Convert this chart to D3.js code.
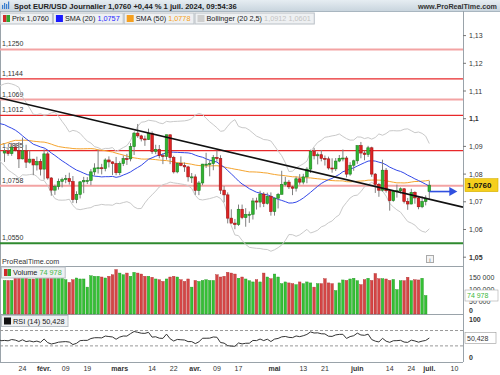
<!DOCTYPE html>
<html><head><meta charset="utf-8">
<script src="https://cdn.jsdelivr.net/npm/d3@7"></script>
<style>body{margin:0;background:#fff}svg{display:block;font-family:"Liberation Sans",Arial,sans-serif}</style>
</head><body><svg id="c" width="500" height="375"></svg>
<script>
// ---------- DATA ----------
const startDate = "2024-01-17", endDate = "2024-07-01";
const opens = [1.0876,1.0883,1.0874,1.0897,1.0885,1.0855,1.0884,1.0843,1.0854,1.0833,1.0845,
1.0818,1.0873,1.0786,1.0742,1.0755,1.0774,1.0780,1.0784,1.0773,1.0708,1.0727,1.0772,1.0777,1.0777,1.0808,1.0822,1.0823,1.0820,1.0851,1.0844,1.0838,
1.0805,1.0838,1.0856,1.0855,1.0899,1.0948,1.0938,1.0927,1.0925,1.0946,1.0882,1.0889,1.0867,1.0864,1.0942,1.0860,1.0808,1.0839,1.0831,1.0826,1.0790,
1.0790,1.0741,1.0768,1.0836,1.0836,1.0838,1.0860,1.0856,1.0742,1.0725,1.0641,1.0623,1.0618,1.0673,1.0643,1.0654,1.0655,1.0703,1.0699,1.0728,1.0694,1.0720,
1.0665,1.0713,1.0727,1.0762,1.0771,1.0754,1.0749,1.0783,1.0771,1.0790,1.0818,1.0882,1.0866,1.0870,1.0857,1.0855,1.0822,1.0819,1.0847,1.0857,1.0858,1.0800,1.0832,
1.0848,1.0903,1.0876,1.0871,1.0895,1.0800,1.0763,1.0742,1.0814,1.0740,1.0704,1.0738,1.0740,1.0747,1.0701,1.0692,1.0734,1.0714,1.0682,1.0701,
1.0737];
const highs = [1.0893,1.0895,1.0913,1.0911,1.0916,1.0932,1.0906,1.0885,1.0855,1.0863,1.0855,
1.0889,1.0881,1.0789,1.0762,1.0784,1.0787,1.0797,1.0805,1.0793,1.0738,1.0775,1.0790,1.0789,1.0818,1.0839,1.0888,1.0837,1.0857,1.0864,1.0846,1.0862,
1.0846,1.0867,1.0873,1.0912,1.0951,1.0981,1.0942,1.0939,1.0964,1.0954,1.0906,1.0905,1.0876,1.0942,1.0942,1.0866,1.0842,1.0864,1.0842,1.0830,1.0804,
1.0799,1.0775,1.0837,1.0877,1.0850,1.0869,1.0885,1.0868,1.0757,1.0734,1.0673,1.0638,1.0690,1.0690,1.0677,1.0665,1.0714,1.0715,1.0740,1.0735,1.0733,1.0734,
1.0716,1.0732,1.0812,1.0790,1.0779,1.0758,1.0791,1.0800,1.0801,1.0825,1.0888,1.0895,1.0878,1.0887,1.0867,1.0863,1.0857,1.0858,1.0869,1.0889,1.0865,1.0843,1.0852,
1.0902,1.0916,1.0884,1.0902,1.0899,1.0804,1.0768,1.0852,1.0822,1.0744,1.0741,1.0762,1.0752,1.0749,1.0714,1.0747,1.0738,1.0718,1.0720,1.0723,
1.0776];
const lows = [1.0844,1.0866,1.0866,1.0882,1.0822,1.0853,1.0822,1.0838,1.0796,1.0813,1.0795,
1.0780,1.0780,1.0722,1.0725,1.0744,1.0752,1.0767,1.0762,1.0696,1.0695,1.0712,1.0731,1.0764,1.0760,1.0795,1.0802,1.0799,1.0810,1.0824,1.0797,1.0796,
1.0796,1.0829,1.0833,1.0846,1.0869,1.0931,1.0918,1.0902,1.0923,1.0873,1.0872,1.0857,1.0836,1.0852,1.0836,1.0802,1.0803,1.0828,1.0808,1.0773,1.0768,
1.0725,1.0724,1.0760,1.0822,1.0792,1.0814,1.0845,1.0728,1.0698,1.0622,1.0622,1.0601,1.0613,1.0637,1.0610,1.0624,1.0636,1.0672,1.0680,1.0681,1.0690,1.0650,
1.0650,1.0676,1.0727,1.0756,1.0746,1.0724,1.0737,1.0762,1.0763,1.0767,1.0804,1.0853,1.0835,1.0846,1.0831,1.0816,1.0805,1.0811,1.0843,1.0846,1.0788,1.0794,1.0812,
1.0837,1.0857,1.0850,1.0862,1.0790,1.0732,1.0718,1.0737,1.0733,1.0668,1.0700,1.0715,1.0730,1.0694,1.0671,1.0691,1.0693,1.0673,1.0677,1.0687,
1.0710];
const closes = [1.0883,1.0874,1.0897,1.0885,1.0855,1.0884,1.0843,1.0854,1.0833,1.0845,1.0818,
1.0873,1.0786,1.0742,1.0755,1.0774,1.0780,1.0784,1.0773,1.0708,1.0727,1.0772,1.0777,1.0777,1.0808,1.0822,1.0823,1.0820,1.0851,1.0844,1.0838,1.0805,
1.0838,1.0856,1.0855,1.0899,1.0948,1.0938,1.0927,1.0925,1.0946,1.0882,1.0889,1.0867,1.0864,1.0942,1.0860,1.0808,1.0839,1.0831,1.0826,1.0790,1.0790,
1.0741,1.0768,1.0836,1.0836,1.0838,1.0860,1.0856,1.0742,1.0725,1.0641,1.0623,1.0618,1.0673,1.0643,1.0654,1.0655,1.0703,1.0699,1.0728,1.0694,1.0720,1.0665,
1.0713,1.0727,1.0762,1.0771,1.0754,1.0749,1.0783,1.0771,1.0790,1.0818,1.0882,1.0866,1.0870,1.0857,1.0855,1.0822,1.0819,1.0847,1.0857,1.0858,1.0800,1.0832,1.0848,
1.0903,1.0876,1.0871,1.0895,1.0800,1.0763,1.0742,1.0814,1.0740,1.0704,1.0738,1.0740,1.0747,1.0701,1.0692,1.0734,1.0714,1.0682,1.0701,1.0713,
1.0760];
const volumes = [136000,136000,136000,146000,146000,153000,146000,142000,142000,146000,
153000,153000,159000,153000,146000,153000,146000,139000,128000,139000,
146000,142000,142000,109000,155000,153000,153000,150000,146000,153000,
159000,180000,166000,159000,166000,153000,169000,166000,162000,153000,
153000,149000,142000,139000,132000,142000,150000,153000,150000,139000,
132000,142000,109000,136000,132000,136000,139000,136000,136000,159000,
150000,153000,169000,166000,162000,145000,150000,142000,135000,
130000,139000,130000,166000,150000,143000,162000,150000,123000,130000,
126000,123000,119000,130000,123000,130000,126000,109000,123000,123000,
143000,126000,123000,95000,
126000,138000,136000,142000,145000,135000,119000,139000,145000,136000,
164000,143000,143000,142000,136000,140000,99000,135000,135000,149000,
135000,139000,138000,145000,74978];
// closes before the visible window (for SMA / Bollinger / RSI warm-up)
const priorCloses = [1.0573,1.0620,1.0728,1.0722,1.0699,1.0710,1.0667,1.0683,1.0701,1.0879,1.0848,1.0853,1.0914,
1.0940,1.0910,1.0888,1.0904,1.0940,1.0954,1.0993,1.0970,1.0888,1.0884,1.0835,1.0797,1.0764,1.0793,1.0763,1.0763,
1.0793,1.0874,1.0993,1.0896,1.0923,1.0980,1.0942,1.1013,1.1012,1.1023,1.1043,1.1105,1.1062,1.1039,1.1036,1.0941,
1.0921,1.0945,1.0942,1.0950,1.0930,1.0973,1.0970,1.0951,1.0951,1.0877];
const levelValues = [1.1250, 1.1144, 1.1069, 1.1012, 1.0885, 1.0758, 1.0550];
const levelLabels = ["1,1250","1,1144","1,1069","1,1012","1,0885","1,0758","1,0550"];
const levelKinds = ["soft","hard","soft","hard","hard","soft","support"];
const trendDates = ["2024-01-17","2024-07-10"];
const trendValues = [1.1071, 1.0688];
const priceTicks = [1.05,1.06,1.07,1.08,1.09,1.10,1.11,1.12,1.13];
const priceTickLabels = ["1,05","1,06","1,07","1,08","1,09","1,1","1,11","1,12","1,13"];
const volumeTicks = [0,50000,100000,150000];
const volumeTickLabels = ["0","50 000","100 000","150 000"];
const rsiTicks = [0,100];
const rsiTickLabels = ["0","100"];
const rsiLevels = [30,70];
const timeTickDates = ["2024-01-24","2024-02-01","2024-02-09","2024-02-19","2024-03-01","2024-03-14","2024-03-22","2024-04-01","2024-04-09","2024-04-17","2024-05-01","2024-05-13","2024-05-21","2024-06-03","2024-06-14","2024-06-24","2024-07-01","2024-07-10"];
const timeTickLabels = ["24","févr.","09","19","mars","14","22","avr.","09","17","mai","13","21","juin","14","24","juil.","10"];
const titleText = "Spot EUR/USD Journalier 1,0760 +0,44 % 1 juil. 2024, 09:54:36";
const lastPrice = 1.0760, lastPriceLabel = "1,0760";
const arrowValue = 1.0737;
const legendValues = {prix:"1,0760", sma20:"1,0757", sma50:"1,0778", bollUp:"1,0912", bollLow:"1,0601", volume:"74 978", rsi:"50,428"};
const rsiLast = 50.428;

// ---------- HELPERS ----------
const parse = d3.timeParse("%Y-%m-%d");
const start = parse(startDate);
const dates = d3.timeDay.range(start, d3.timeDay.offset(parse(endDate),1)).filter(d=>d.getDay()%6!==0);
function tradIdx(s){const d=parse(s);let n=0;for(let t=new Date(start);t<d;t=d3.timeDay.offset(t,1)){if(t.getDay()%6!==0)n++;}return n;}
const bars = dates.map((d,i)=>({i,d,o:opens[i],h:highs[i],l:lows[i],c:closes[i],v:volumes[i]}));
const allC = priorCloses.concat(closes);
const off = priorCloses.length;
function sma(n,k){const s=allC.slice(k-n+1,k+1);return d3.mean(s);}
function sd(n,k){const s=allC.slice(k-n+1,k+1);const m=d3.mean(s);return Math.sqrt(d3.mean(s,v=>(v-m)*(v-m)));}
const ind=[];
for(let i=-2;i<bars.length;i++){const k=off+i;ind.push({i,s20:sma(20,k),s50:sma(50,k),up:sma(20,k)+2.5*sd(20,k),lo:sma(20,k)-2.5*sd(20,k)});}
function rsiCalc(arr,n){const out=new Array(arr.length).fill(null);let g=0,l=0;
 for(let i=1;i<=n;i++){const d=arr[i]-arr[i-1];if(d>0)g+=d;else l-=d;}
 let ag=g/n,al=l/n;out[n]=100-100/(1+ag/al);
 for(let i=n+1;i<arr.length;i++){const d=arr[i]-arr[i-1];ag=(ag*(n-1)+Math.max(d,0))/n;al=(al*(n-1)+Math.max(-d,0))/n;out[i]=al===0?100:100-100/(1+ag/al);}
 return out;}
const rsiAll = rsiCalc(allC,14);
const rsiPts=[];for(let i=-2;i<bars.length;i++)rsiPts.push({i,r:rsiAll[off+i]});

// ---------- LAYOUT ----------
const svg=d3.select("#c");
const R=463;
const pTop=24,pBot=266,vTop=266,vBot=314,rTop=314,rBot=362;
const x=d3.scaleLinear().domain([0,bars.length-1]).range([4.5,429.3]);
const y=d3.scaleLinear().domain([1.04682,1.13419]).range([pBot,pTop]);
const yv=d3.scaleLinear().domain([0,150000]).range([vBot,277]);
const yr=d3.scaleLinear().domain([0,100]).range([357.4,319]);
const defs=svg.append("defs");
const gr=defs.append("linearGradient").attr("id","tb").attr("x1",0).attr("x2",0).attr("y1",0).attr("y2",1);
gr.append("stop").attr("offset","0").attr("stop-color","#e6edf2");
gr.append("stop").attr("offset","1").attr("stop-color","#c9d5de");
defs.append("clipPath").attr("id","cp").append("rect").attr("x",0).attr("y",11).attr("width",R).attr("height",pBot-11);
defs.append("clipPath").attr("id","cr").append("rect").attr("x",0).attr("y",rTop).attr("width",R).attr("height",rBot-rTop);

// title bar
svg.append("rect").attr("x",0).attr("y",0).attr("width",500).attr("height",11).attr("fill","url(#tb)");
svg.append("line").attr("x1",0).attr("x2",500).attr("y1",11.5).attr("y2",11.5).attr("stroke","#a9b6c0");
const ic=svg.append("g");
[[2,5,1.2],[4,3,1.2],[6,4,1.2],[8,1.5,1.2]].forEach(a=>ic.append("rect").attr("x",a[0]).attr("y",a[1]).attr("width",a[2]).attr("height",9-a[1]).attr("fill","#3a7fd0"));
svg.append("text").attr("x",14).attr("y",8.5).attr("font-size",7.6).attr("font-weight","bold").attr("fill","#222").text(titleText);
svg.append("text").attr("x",497).attr("y",8.5).attr("text-anchor","end").attr("font-size",7.2).attr("font-weight","bold").attr("fill","#333").text("www.ProRealTime.com");

// frame
const fr=svg.append("g").attr("stroke","#9aa3aa").attr("fill","none");
fr.append("line").attr("x1",R+0.5).attr("x2",R+0.5).attr("y1",11).attr("y2",rBot);
fr.append("line").attr("x1",0.5).attr("x2",0.5).attr("y1",11).attr("y2",rBot);
[vTop,vBot,rBot].forEach(v=>fr.append("line").attr("x1",0).attr("x2",R).attr("y1",v+0.5).attr("y2",v+0.5));

// ----- price panel -----
const pg=svg.append("g").attr("clip-path","url(#cp)");
// levels
levelValues.forEach((v,k)=>{
  const kind=levelKinds[k];
  const col=kind==="soft"?"#f3a3a3":kind==="hard"?"#e8282a":"#2f8a2f";
  const w=kind==="support"?2:kind==="soft"?2:1.2;
  pg.append("line").attr("x1",0).attr("x2",R).attr("y1",y(v)).attr("y2",y(v)).attr("stroke",col).attr("stroke-width",w);
  pg.append("text").attr("x",2).attr("y",y(v)-3).attr("font-size",7).attr("fill","#333").text(levelLabels[k]);
});
// bollinger
const lineB=(acc)=>d3.line().x(d=>x(d.i)).y(d=>y(acc(d)));
pg.append("path").attr("d",lineB(d=>d.up)(ind)).attr("fill","none").attr("stroke","#c9c9c9").attr("stroke-width",1);
pg.append("path").attr("d",lineB(d=>d.lo)(ind)).attr("fill","none").attr("stroke","#c9c9c9").attr("stroke-width",1);
pg.append("path").attr("d",lineB(d=>d.s50)(ind)).attr("fill","none").attr("stroke","#f5a42e").attr("stroke-width",1);
pg.append("path").attr("d",lineB(d=>d.s20)(ind)).attr("fill","none").attr("stroke","#3348e8").attr("stroke-width",1);
// candles
const cw=2.6;
const cg=pg.append("g");
bars.forEach(b=>{
  const up=b.c>=b.o;
  cg.append("line").attr("x1",x(b.i)).attr("x2",x(b.i)).attr("y1",y(b.h)).attr("y2",y(b.l)).attr("stroke","#808080").attr("stroke-width",1);
  const top=y(Math.max(b.o,b.c)),bot=y(Math.min(b.o,b.c));
  cg.append("rect").attr("x",x(b.i)-cw/2).attr("y",top).attr("width",cw).attr("height",Math.max(1,bot-top))
    .attr("fill",up?"#2fb52f":"#e02222").attr("stroke",up?"#1f7f1f":"#9e1515").attr("stroke-width",0.6);
});
// trend line (extended across panel)
const t0=tradIdx(trendDates[0]),t1=tradIdx(trendDates[1]);
const px0=x(t0),py0=y(trendValues[0]),px1=x(t1),py1=y(trendValues[1]);
const sl=(py1-py0)/(px1-px0);
pg.append("line").attr("x1",0).attr("y1",py0-sl*px0).attr("x2",R).attr("y2",py0+sl*(R-px0)).attr("stroke","#111").attr("stroke-width",1.6);
// blue arrow
const ay=y(arrowValue), ax0=x(bars.length-1);
svg.append("line").attr("x1",ax0).attr("x2",ax0+22).attr("y1",ay).attr("y2",ay).attr("stroke","#3050e0").attr("stroke-width",1.6);
svg.append("path").attr("d",`M${ax0+20},${ay-4.5}L${ax0+28},${ay}L${ax0+20},${ay+4.5}Z`).attr("fill","#3050e0");
// watermark and info
svg.append("text").attr("x",2).attr("y",264).attr("font-size",7.2).attr("fill","#333").text("ProRealTime.com");
svg.append("rect").attr("x",426.5).attr("y",255.5).attr("width",7).attr("height",7).attr("fill","#f4f4f4").attr("stroke","#aaa");
svg.append("text").attr("x",430).attr("y",261.5).attr("text-anchor","middle").attr("font-size",6).attr("fill","#666").text("i");

// price axis
const ax=svg.append("g");
priceTicks.forEach((v,k)=>{
  ax.append("line").attr("x1",R).attr("x2",R+3).attr("y1",y(v)).attr("y2",y(v)).attr("stroke","#777");
  ax.append("text").attr("x",R+6).attr("y",y(v)+2.5).attr("font-size",7).attr("fill","#333")
    .attr("font-weight",(v===1.10||v===1.05)?"bold":"normal").text(priceTickLabels[k]);
});
svg.append("rect").attr("x",R+2).attr("y",y(lastPrice)-6.5).attr("width",33).attr("height",13).attr("fill","#f5cf1d").attr("stroke","#d4ad00").attr("stroke-width",0.6);
svg.append("text").attr("x",R+4).attr("y",y(lastPrice)+3).attr("font-size",8).attr("font-weight","bold").attr("fill","#111").text(lastPriceLabel);

// ----- volume panel -----
const vg=svg.append("g");
bars.forEach(b=>{
  const up=b.c>=b.o;
  vg.append("rect").attr("x",x(b.i)-1.3).attr("y",yv(b.v)).attr("width",2.6).attr("height",vBot-yv(b.v))
    .attr("fill",up?"#35c035":"#d54545").attr("stroke",up?"#239623":"#b03030").attr("stroke-width",0.4);
});
volumeTicks.forEach((v,k)=>{
  const yy=v===0?vBot-4:yv(v);
  svg.append("text").attr("x",R+6).attr("y",yy+2.5).attr("font-size",7).attr("fill","#333").attr("font-weight",v===0?"bold":"normal").text(volumeTickLabels[k]);
});
svg.append("rect").attr("x",R+2).attr("y",yv(74978)-5.5).attr("width",33).attr("height",11).attr("fill","#fff").attr("stroke","#aaa").attr("stroke-width",0.6);
svg.append("text").attr("x",R+4).attr("y",yv(74978)+2.5).attr("font-size",7).attr("fill","#3cb83c").text(legendValues.volume);

// ----- RSI panel -----
const rg=svg.append("g").attr("clip-path","url(#cr)");
rsiLevels.forEach(v=>rg.append("line").attr("x1",0).attr("x2",R).attr("y1",yr(v)).attr("y2",yr(v)).attr("stroke","#999").attr("stroke-dasharray","3,2"));
rg.append("path").attr("d",d3.line().x(d=>x(d.i)).y(d=>yr(d.r))(rsiPts)).attr("fill","none").attr("stroke","#333").attr("stroke-width",1);
rsiTicks.forEach((v,k)=>svg.append("text").attr("x",R+6).attr("y",(v===100?319:357)+2.5).attr("font-size",7).attr("fill","#333").attr("font-weight","bold").text(rsiTickLabels[k]));
svg.append("rect").attr("x",R+2).attr("y",yr(rsiLast)-5.5).attr("width",31).attr("height",11).attr("fill","#fff").attr("stroke","#999").attr("stroke-width",0.6);
svg.append("text").attr("x",R+4).attr("y",yr(rsiLast)+2.5).attr("font-size",7).attr("fill","#333").text(legendValues.rsi);

// ----- time axis -----
timeTickDates.forEach((s,k)=>{
  const xx=x(tradIdx(s));
  const isMonth=isNaN(+timeTickLabels[k]);
  svg.append("text").attr("x",xx).attr("y",371).attr("text-anchor","middle").attr("font-size",7).attr("fill","#333")
    .attr("font-weight",isMonth?"bold":"normal").text(timeTickLabels[k]);
});

// ----- legends -----
function legendBox(x0,y0,h,iconFn,parts){
  const g=svg.append("g");
  const r=g.append("rect").attr("x",x0+0.5).attr("y",y0+0.5).attr("height",h).attr("fill","#eef0f2").attr("stroke","#b9c0c6");
  iconFn(g,x0+3,y0+2.5);
  const t=g.append("text").attr("x",x0+12).attr("y",y0+h-2.5).attr("font-size",7.3);
  parts.forEach(p=>t.append("tspan").attr("fill",p[1]).text(p[0]));
  const w=t.node().getComputedTextLength()+15;
  r.attr("width",w);
  return x0+w+1;
}
const sq=(c)=>(g,a,b)=>g.append("rect").attr("x",a).attr("y",b).attr("width",7).attr("height",7).attr("fill",c);
const rgIcon=(g,a,b)=>{g.append("rect").attr("x",a).attr("y",b).attr("width",3.5).attr("height",7).attr("fill","#d02a2a");g.append("rect").attr("x",a+3.5).attr("y",b).attr("width",3.5).attr("height",7).attr("fill","#2fa52f");};
let lx=0;
lx=legendBox(lx,12.5,11,rgIcon,[["Prix "+legendValues.prix,"#222"]]);
lx=legendBox(lx,12.5,11,sq("#1a1aff"),[["SMA (20) ","#222"],[legendValues.sma20,"#2a2aff"]]);
lx=legendBox(lx,12.5,11,sq("#f5a020"),[["SMA (50) ","#222"],[legendValues.sma50,"#f5a020"]]);
lx=legendBox(lx,12.5,11,sq("#cfcfcf"),[["Bollinger (20 2,5) ","#222"],[legendValues.bollUp+" "+legendValues.bollLow,"#c4c4c4"]]);
legendBox(1,266.5,11,rgIcon,[["Volume ","#222"],[legendValues.volume,"#45b845"]]);
legendBox(1,315,11,sq("#111"),[["RSI (14) "+legendValues.rsi,"#222"]]);
</script></body></html>
